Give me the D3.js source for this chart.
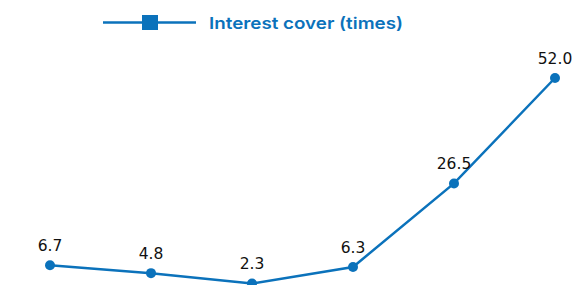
<!DOCTYPE html>
<html>
<head>
<meta charset="utf-8">
<script src="https://cdn.jsdelivr.net/npm/d3@7"></script>
<style>
  body { margin: 0; background: #fff; }
</style>
</head>
<body>
<div id="chart"></div>
<script>
const periods = ['P1', 'P2', 'P3', 'P4', 'P5', 'P6'];
const interestCover = [6.7, 4.8, 2.3, 6.3, 26.5, 52.0];
const seriesName = 'Interest cover (times)';

const width = 587;
const height = 285;
const blue = '#0b72bb';

const svg = d3.select('#chart').append('svg')
  .attr('width', width)
  .attr('height', height);

const x = d3.scalePoint()
  .domain(periods)
  .range([50, 555]);

const y = d3.scaleLinear()
  .domain([0, 52])
  .range([293, 78]);

const data = periods.map((p, i) => ({ p, v: interestCover[i] }));

const line = d3.line()
  .x(d => x(d.p))
  .y(d => y(d.v));

svg.append('path')
  .datum(data)
  .attr('fill', 'none')
  .attr('stroke', blue)
  .attr('stroke-width', 2.5)
  .attr('d', line);

svg.selectAll('.dot')
  .data(data)
  .enter()
  .append('circle')
  .attr('class', 'dot')
  .attr('cx', d => x(d.p))
  .attr('cy', d => y(d.v))
  .attr('r', 5)
  .attr('fill', blue);

svg.selectAll('.val')
  .data(data)
  .enter()
  .append('text')
  .attr('class', 'val')
  .attr('x', d => x(d.p))
  .attr('y', d => y(d.v) - 14)
  .attr('text-anchor', 'middle')
  .attr('font-family', '"DejaVu Sans", sans-serif')
  .attr('font-size', 15.5)
  .attr('fill', '#111')
  .text(d => d.v.toFixed(1));

// legend
const legend = svg.append('g');
legend.append('line')
  .attr('x1', 103).attr('x2', 196)
  .attr('y1', 22.5).attr('y2', 22.5)
  .attr('stroke', blue)
  .attr('stroke-width', 2.5);
legend.append('rect')
  .attr('x', 142).attr('y', 15)
  .attr('width', 16).attr('height', 15)
  .attr('fill', blue);
legend.append('text')
  .attr('x', 209)
  .attr('y', 28.5)
  .attr('font-family', 'Inter, sans-serif')
  .attr('font-size', 16.5)
  .attr('font-weight', 600)
  .attr('textLength', 194)
  .attr('lengthAdjust', 'spacingAndGlyphs')
  .attr('fill', blue)
  .text(seriesName);
</script>
</body>
</html>
